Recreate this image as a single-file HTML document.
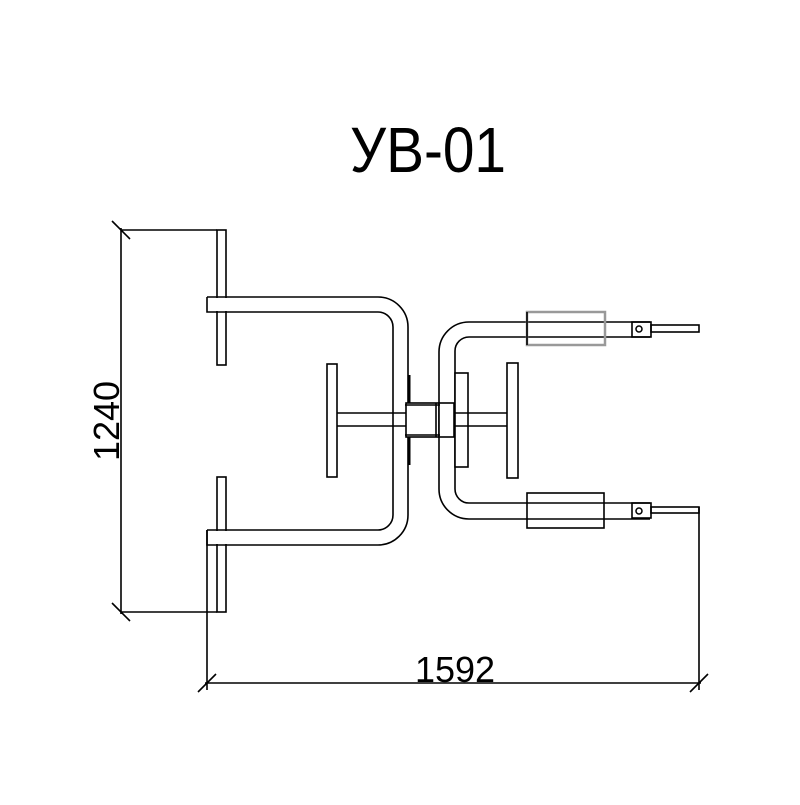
<!DOCTYPE html>
<html><head><meta charset="utf-8"><style>html,body{margin:0;padding:0;background:#fff}</style></head>
<body>
<svg width="800" height="800" viewBox="0 0 800 800" xmlns="http://www.w3.org/2000/svg" fill="none" stroke="#000" stroke-width="1.6">
<text x="350" y="172" font-family="Liberation Sans, sans-serif" font-size="64" fill="#000" stroke="none" textLength="156" lengthAdjust="spacingAndGlyphs">УВ-01</text>
<!-- left dimension -->
<line x1="121" y1="228" x2="121" y2="614"/>
<line x1="121" y1="230" x2="217" y2="230"/>
<line x1="121" y1="612" x2="217" y2="612"/>
<line x1="112" y1="221" x2="130" y2="239"/>
<line x1="112" y1="603" x2="130" y2="621"/>
<text transform="translate(119,421) rotate(-90)" text-anchor="middle" font-family="Liberation Sans, sans-serif" font-size="36" fill="#000" stroke="none">1240</text>
<!-- bottom dimension -->
<line x1="207" y1="530" x2="207" y2="690"/>
<line x1="699" y1="507" x2="699" y2="690"/>
<line x1="205" y1="683" x2="701" y2="683"/>
<line x1="198" y1="692" x2="216" y2="674"/>
<line x1="690" y1="692" x2="708" y2="674"/>
<text x="455" y="682" text-anchor="middle" font-family="Liberation Sans, sans-serif" font-size="36" fill="#000" stroke="none">1592</text>
<!-- left plates -->
<rect x="217" y="230" width="9" height="135"/>
<rect x="217" y="477" width="9" height="135"/>
<!-- left tube -->
<rect x="208" y="298" width="170" height="13" fill="#fff" stroke="none"/>
<rect x="208" y="531" width="170" height="13" fill="#fff" stroke="none"/>
<path d="M207 297 H378 A30 30 0 0 1 408 327 V515 A30 30 0 0 1 378 545 H207 V530"/>
<path d="M207 297 V312 H378 A15 15 0 0 1 393 327 V515 A15 15 0 0 1 378 530 H207"/>
<!-- left T -->
<rect x="327" y="364" width="10" height="113" fill="#fff"/>
<line x1="337" y1="413" x2="408" y2="413"/>
<line x1="337" y1="426" x2="408" y2="426"/>
<line x1="409" y1="375" x2="409" y2="465" stroke-width="3"/>
<!-- right tube -->
<path d="M650 322 H469 A30 30 0 0 0 439 352 V489 A30 30 0 0 0 469 519 H650"/>
<path d="M650 337 H469 A14 14 0 0 0 455 351 V489 A14 14 0 0 0 469 503 H650"/>
<!-- right plates -->
<rect x="455" y="373" width="13" height="94" fill="#fff"/>
<rect x="507" y="363" width="11" height="115" fill="#fff"/>
<line x1="454" y1="413" x2="507" y2="413"/>
<line x1="454" y1="426" x2="507" y2="426"/>
<!-- center boxes -->
<rect x="406" y="403" width="33" height="34" fill="#fff"/>
<line x1="436" y1="403" x2="436" y2="437"/>
<rect x="439" y="403" width="15" height="34" fill="#fff"/>
<line x1="405" y1="405" x2="440" y2="405"/>
<line x1="405" y1="435" x2="440" y2="435"/>
<!-- sleeves -->
<rect x="527" y="312" width="78" height="33" stroke="#999" stroke-width="2.5"/>
<line x1="527" y1="312" x2="527" y2="345"/>
<rect x="527" y="493" width="77" height="35"/>
<!-- ends -->
<rect x="632" y="322" width="19" height="15"/>
<rect x="651" y="325" width="48" height="7"/>
<circle cx="639" cy="329" r="3" stroke-width="1.5"/>
<rect x="632" y="503" width="19" height="15"/>
<rect x="651" y="507" width="48" height="6"/>
<circle cx="639" cy="511" r="3" stroke-width="1.5"/>
</svg>
</body></html>
